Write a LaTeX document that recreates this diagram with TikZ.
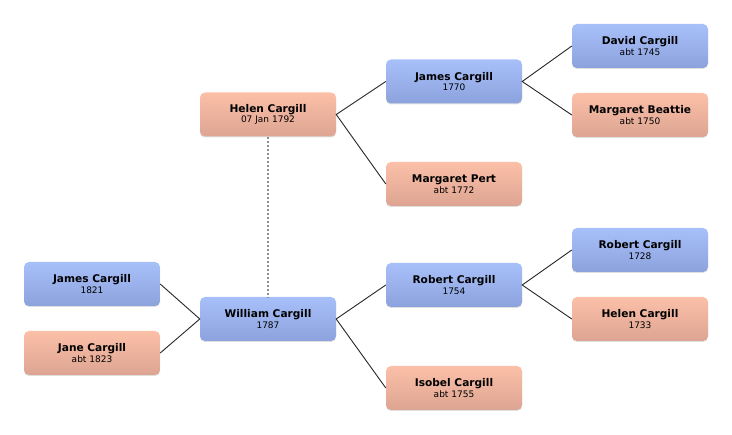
\documentclass[tikz,border=0pt]{standalone}
\usepackage{fontspec}
\setmainfont{DejaVu Sans}
\usetikzlibrary{shadows}
\definecolor{maletop}{HTML}{A8C0FA}
\definecolor{malebot}{HTML}{8CA2DD}
\definecolor{femtop}{HTML}{FCC0A8}
\definecolor{fembot}{HTML}{DCA492}
\tikzset{
  person/.style={rounded corners=5pt, minimum width=136pt, minimum height=44pt,
    align=center, inner sep=0pt,
    drop shadow={shadow xshift=0pt, shadow yshift=-1pt, opacity=0.25}},
  male/.style={person, top color=maletop, bottom color=malebot},
  female/.style={person, top color=femtop, bottom color=fembot},
  link/.style={black!85, line width=0.9pt},
  spouse/.style={gray!90, line width=1.6pt, dash pattern=on 2pt off 2pt}
}
\newcommand{\who}[2]{{\fontsize{10.6}{12}\selectfont\bfseries #1}\\[-1.5pt]{\fontsize{9}{11}\selectfont #2}}
\begin{document}
\begin{tikzpicture}[x=1pt,y=-1pt]
\useasboundingbox (0,0) rectangle (732,435);
\node[female] (helen) at (268,114.5) {\who{Helen Cargill}{07 Jan 1792}};
\node[male] (jamesf) at (454,81.5) {\who{James Cargill}{1770}};
\node[female] (pert) at (454,184) {\who{Margaret Pert}{abt 1772}};
\node[male] (david) at (640,46) {\who{David Cargill}{abt 1745}};
\node[female] (beattie) at (640,115) {\who{Margaret Beattie}{abt 1750}};
\node[male] (william) at (268,319) {\who{William Cargill}{1787}};
\node[male] (jamesc) at (92,284) {\who{James Cargill}{1821}};
\node[female] (jane) at (92,353) {\who{Jane Cargill}{abt 1823}};
\node[male] (robert) at (454,285) {\who{Robert Cargill}{1754}};
\node[female] (isobel) at (454,388) {\who{Isobel Cargill}{abt 1755}};
\node[male] (robertf) at (640,250) {\who{Robert Cargill}{1728}};
\node[female] (helenm) at (640,319) {\who{Helen Cargill}{1733}};
\draw[link] (jamesf.west)--(helen.east)--(pert.west);
\draw[link] (david.west)--(jamesf.east)--(beattie.west);
\draw[link] (robert.west)--(william.east)--(isobel.west);
\draw[link] (robertf.west)--(robert.east)--(helenm.west);
\draw[link] (jamesc.east)--(william.west)--(jane.east);
\draw[spouse] (helen.south)--(william.north);
\end{tikzpicture}
\end{document}
